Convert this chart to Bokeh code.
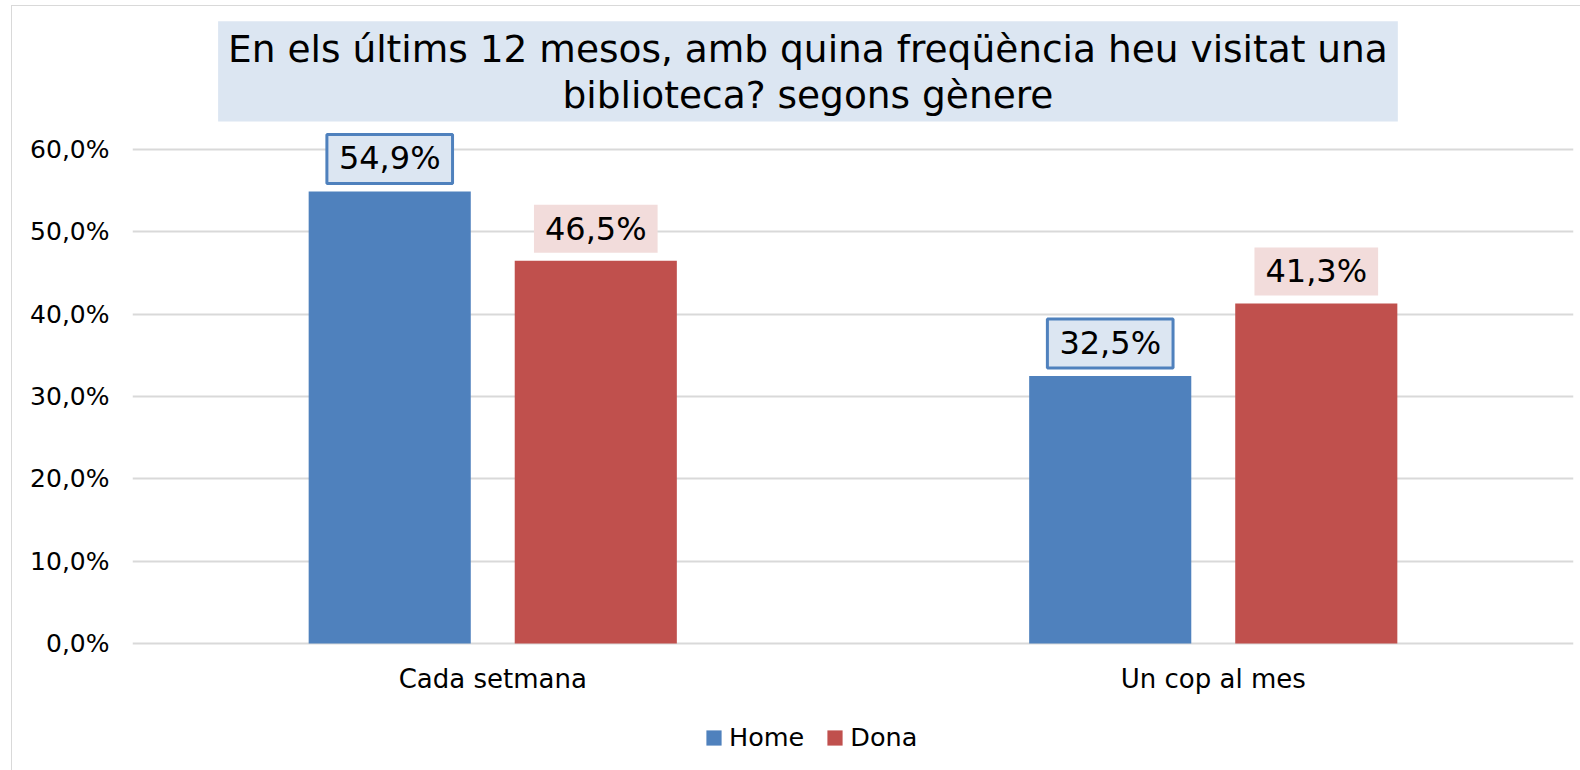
from bokeh.plotting import figure
from bokeh.models import (ColumnDataSource, FactorRange, Range1d, Label, Legend,
                          LegendItem, FixedTicker)
from bokeh.transform import dodge
from bokeh.core.properties import value
from bokeh.embed import file_html
from bokeh.resources import INLINE

# ---- data ----
categories = ["Cada setmana", "Un cop al mes"]
series = ["Home", "Dona"]
home = [54.9, 32.5]
dona = [46.5, 41.3]
yticks = [0, 10, 20, 30, 40, 50, 60]
title_text = "En els últims 12 mesos, amb quina freqüència heu visitat una\nbiblioteca? segons gènere"

BLUE = "#4F81BD"
RED = "#C0504D"
LBLUE = "#DCE6F2"
PINK = "#F2DCDB"
GRID = "#D9D9D9"
FONT = "DejaVu Sans"

def fmt(v):
    return f"{v:.1f}%".replace(".", ",")

src = ColumnDataSource(dict(
    cat=categories, home=home, dona=dona,
    home_lab=[fmt(v) for v in home], dona_lab=[fmt(v) for v in dona],
))

p = figure(x_range=FactorRange(*categories, range_padding=0),
           y_range=Range1d(-15.43, 77.37),
           frame_width=1441, frame_height=764,
           output_backend="svg", toolbar_location=None,
           min_border_left=120, min_border_right=7, min_border_top=0,
           min_border_bottom=0, title=None)
p.styles = {"margin-left": "11px", "margin-top": "5px",
            "border-left": "1px solid #D9D9D9", "border-top": "1px solid #D9D9D9"}
p.outline_line_color = None
p.background_fill_color = "white"
p.border_fill_color = "white"

bw = 0.225
off = 0.143
r_home = p.vbar(x=dodge("cat", -off, range=p.x_range), top="home", width=bw,
                source=src, fill_color=BLUE, line_color=None)
r_dona = p.vbar(x=dodge("cat", off, range=p.x_range), top="dona", width=bw,
                source=src, fill_color=RED, line_color=None)

# data labels
p.text(x=dodge("cat", -off, range=p.x_range), y="home", text="home_lab", source=src,
       text_font=value(FONT), text_font_size=value("32px"), text_color="black",
       text_align="center", text_baseline="bottom", y_offset=-8,
       background_fill_color=LBLUE, border_line_color=BLUE, border_line_width=3,
       padding=dict(left=12, right=12, top=5, bottom=6))
p.text(x=dodge("cat", off, range=p.x_range), y="dona", text="dona_lab", source=src,
       text_font=value(FONT), text_font_size=value("32px"), text_color="black",
       text_align="center", text_baseline="bottom", y_offset=-8,
       background_fill_color=PINK, border_line_color=None,
       padding=dict(left=11, right=11, top=5, bottom=5))

# title box
p.add_layout(Label(x=0.9375, y=75.58, x_units="data", y_units="data", text=title_text,
                   text_align="center", text_baseline="top", text_font=FONT,
                   text_font_size="37.5px", text_line_height=1.03, text_color="black",
                   background_fill_color=LBLUE,
                   padding=dict(left=10, right=10, top=6, bottom=5)))

# axes
p.yaxis.ticker = FixedTicker(ticks=yticks)
p.yaxis.major_label_overrides = {v: fmt(v) for v in yticks}
p.yaxis.axis_line_color = None
p.yaxis.major_tick_line_color = None
p.yaxis.minor_tick_line_color = None
p.yaxis.major_label_standoff = 17
p.yaxis.major_label_text_font = FONT
p.yaxis.major_label_text_font_size = "25px"
p.yaxis.major_label_text_color = "black"

p.xaxis.fixed_location = 0
p.xaxis.axis_line_color = None
p.xaxis.major_tick_line_color = None
p.xaxis.major_label_standoff = 15
p.xaxis.major_label_text_font = FONT
p.xaxis.major_label_text_font_size = "26px"
p.xaxis.major_label_text_color = "black"

p.xgrid.grid_line_color = None
p.ygrid.ticker = FixedTicker(ticks=yticks)
p.ygrid.grid_line_color = GRID
p.ygrid.grid_line_width = 2

legend = Legend(items=[LegendItem(label=series[0], renderers=[r_home]),
                       LegendItem(label=series[1], renderers=[r_dona])],
                orientation="horizontal", location=(572, 18),
                label_text_font=FONT, label_text_font_size="25.5px",
                label_text_color="black",
                glyph_width=19, glyph_height=19, label_standoff=6, spacing=21,
                padding=0, margin=0, border_line_color=None,
                background_fill_alpha=0)
p.add_layout(legend, "center")

open("out.html", "w").write(file_html(p, INLINE))
